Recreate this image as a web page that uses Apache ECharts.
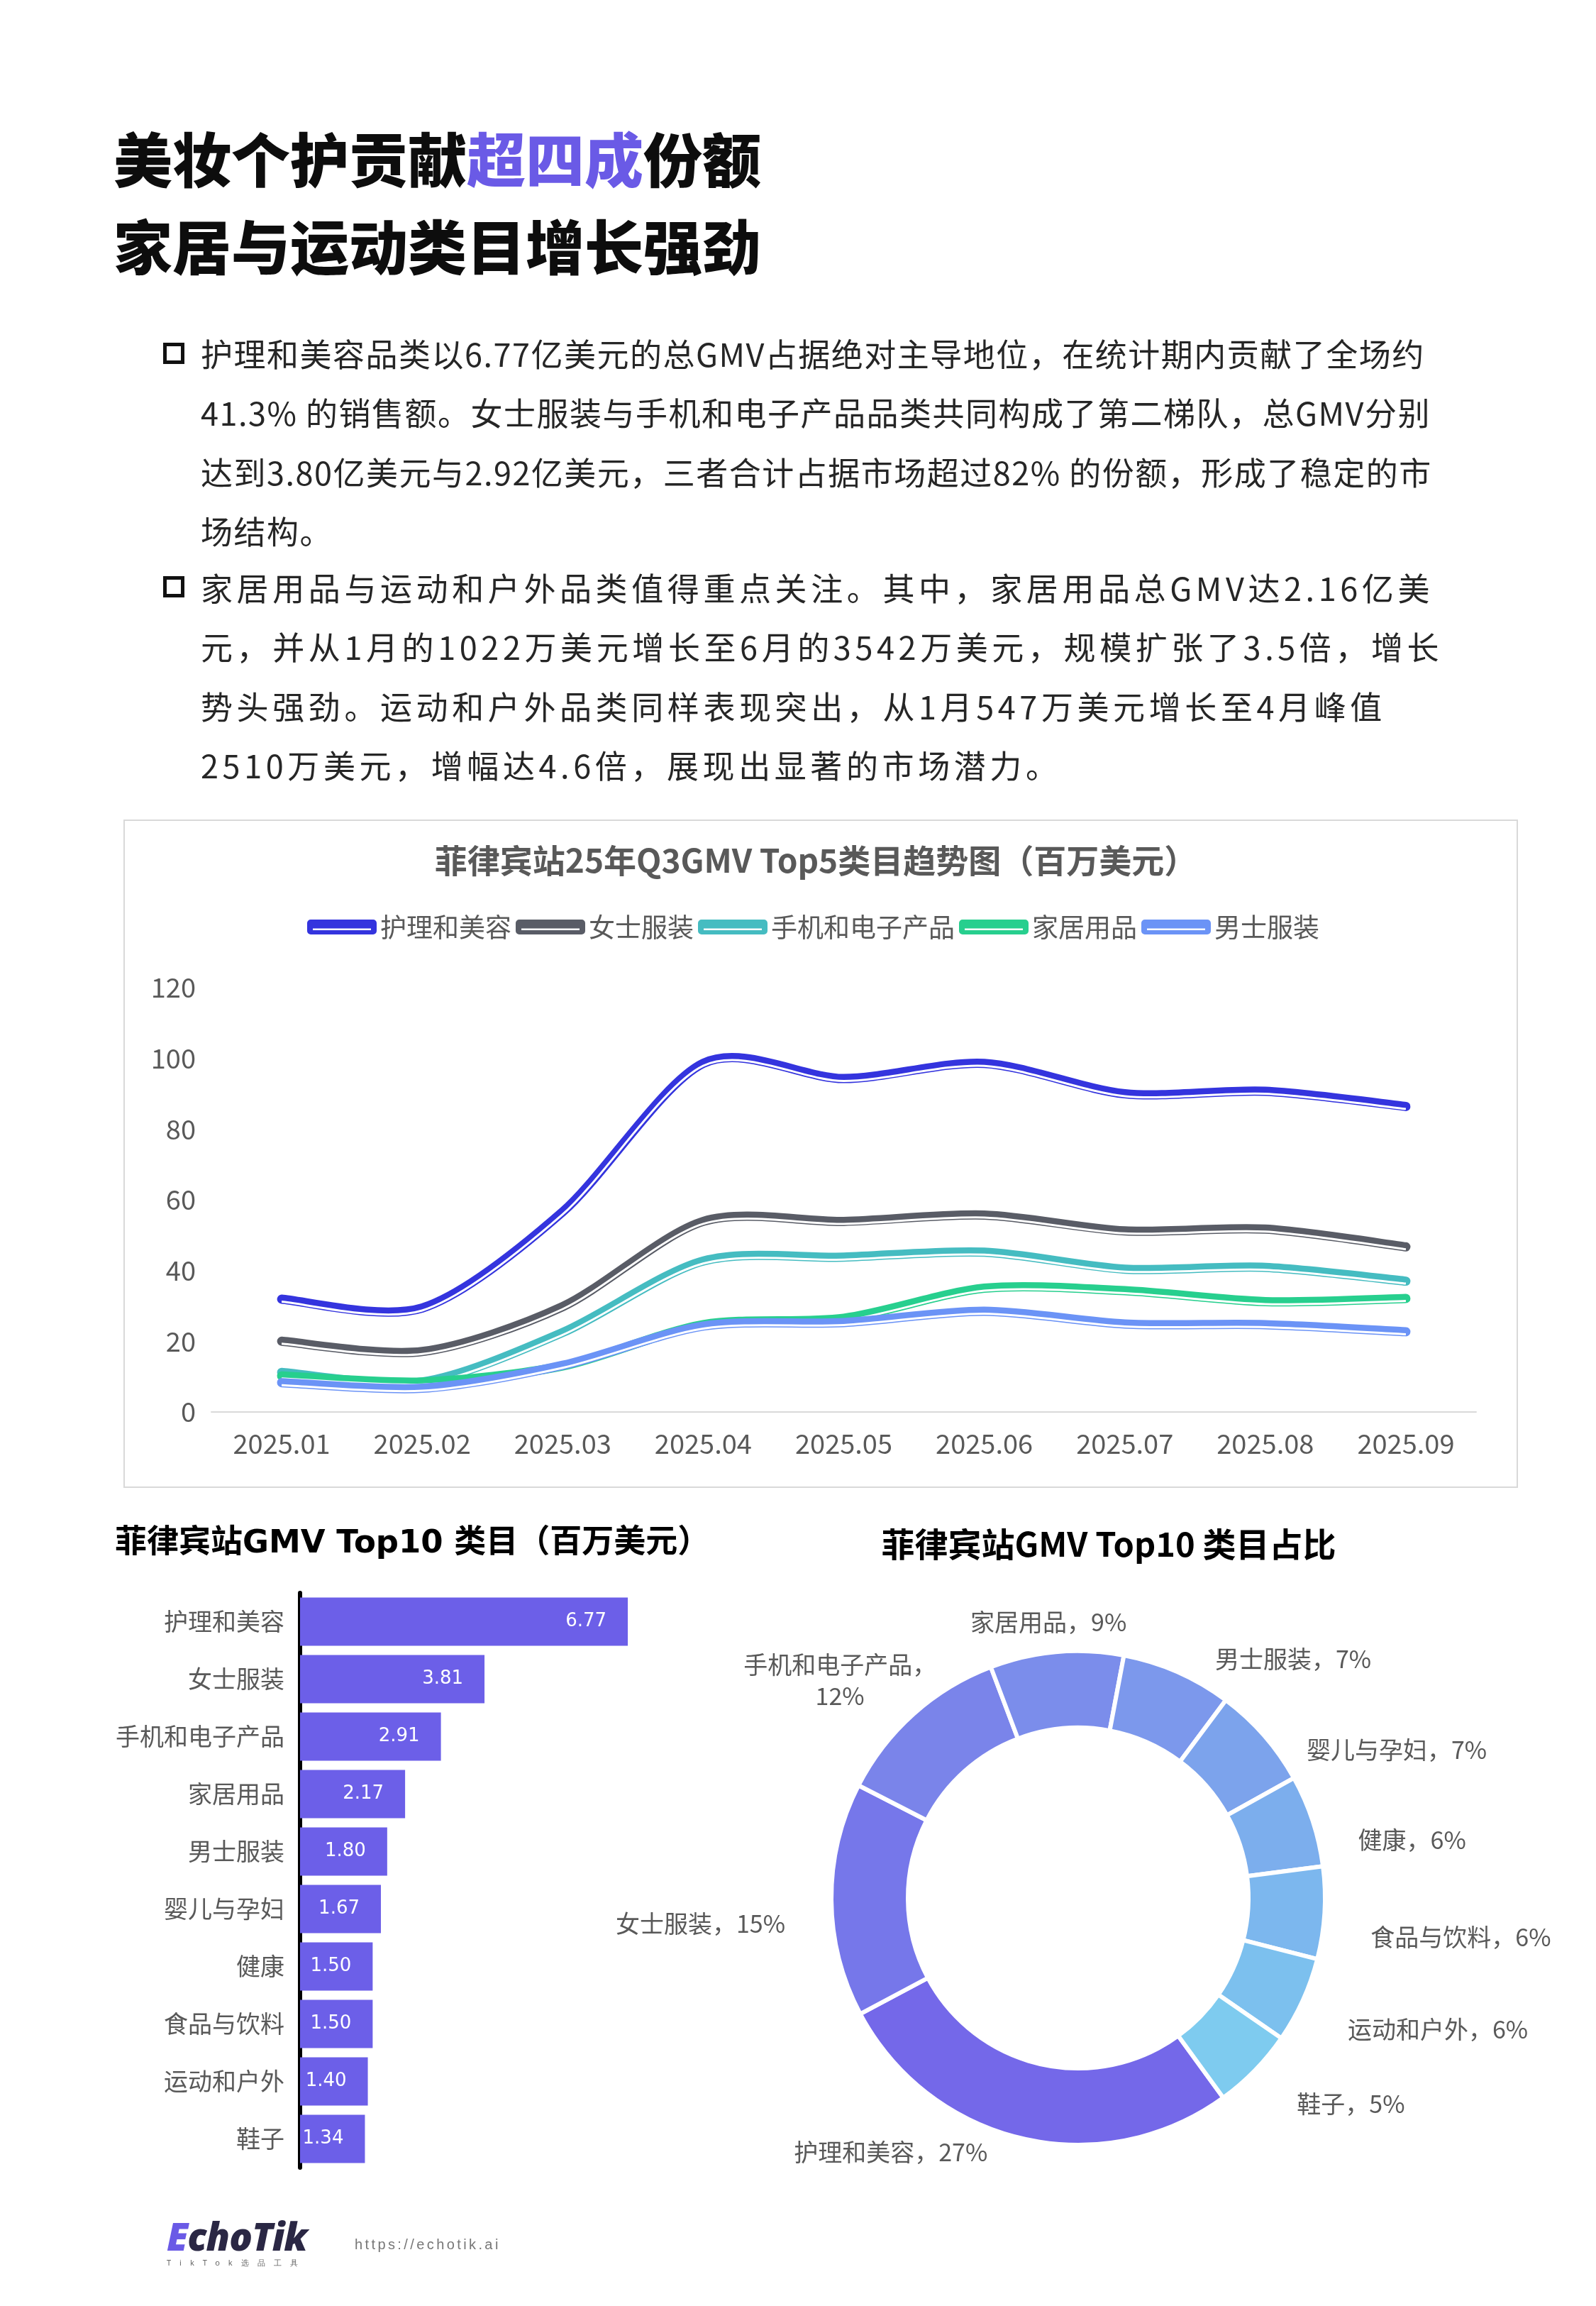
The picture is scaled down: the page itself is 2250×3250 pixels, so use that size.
<!DOCTYPE html>
<html>
<head>
<meta charset="utf-8">
<script src="https://cdn.jsdelivr.net/npm/echarts@6/dist/echarts.min.js"></script>
<style>
html,body{margin:0;padding:0;background:#fff;}
body{width:2250px;height:3250px;position:relative;overflow:hidden;font-family:"Noto Sans CJK SC","Noto Sans",sans-serif;}
#chart{position:absolute;left:0;top:0;width:2250px;height:3250px;z-index:1;}
.layer{position:absolute;z-index:2;}
.h1{left:160px;font-size:83px;font-weight:900;color:#0d0d0d;line-height:84px;height:84px;white-space:nowrap;}
.h1 .hl{color:#6a5ae6;}
.para{left:283px;font-size:45px;color:#262626;line-height:83.3px;white-space:nowrap;}
.para div{height:83.3px;}
.p1{letter-spacing:1.5px;}
.p2{letter-spacing:5.6px;}
.box{left:230px;width:20px;height:20px;border:5px solid #111;}
.logo{left:235px;top:3124px;font-family:"Noto Sans","DejaVu Sans",sans-serif;}
.logo .main{font-size:54px;font-weight:900;font-style:italic;color:#2a2744;line-height:54px;letter-spacing:-1px;}
.logo .main span{color:#6a5ae6;}
.logo .sub{font-size:11px;color:#666;letter-spacing:12px;line-height:14px;margin-top:4px;}
.url{left:500px;top:3152px;font-size:20px;color:#777;letter-spacing:3.4px;font-family:"Liberation Sans",sans-serif;}
</style>
</head>
<body>
<div id="chart"></div>
<div class="layer h1" style="top:179px;">美妆个护贡献<span class="hl">超四成</span>份额</div>
<div class="layer h1" style="top:302px;">家居与运动类目增长强劲</div>

<div class="layer box" style="top:483px;"></div>
<div class="layer para p1" style="top:456px;">
<div>护理和美容品类以6.77亿美元的总GMV占据绝对主导地位，在统计期内贡献了全场约</div>
<div>41.3% 的销售额。女士服装与手机和电子产品品类共同构成了第二梯队，总GMV分别</div>
<div>达到3.80亿美元与2.92亿美元，三者合计占据市场超过82% 的份额，形成了稳定的市</div>
<div>场结构。</div>
</div>
<div class="layer box" style="top:812px;"></div>
<div class="layer para p2" style="top:786px;">
<div>家居用品与运动和户外品类值得重点关注。其中，家居用品总GMV达2.16亿美</div>
<div>元，并从1月的1022万美元增长至6月的3542万美元，规模扩张了3.5倍，增长</div>
<div>势头强劲。运动和户外品类同样表现突出，从1月547万美元增长至4月峰值</div>
<div>2510万美元，增幅达4.6倍，展现出显著的市场潜力。</div>
</div>

<div class="layer logo">
<div class="main"><span>E</span>choTik</div>
<div class="sub">TikTok选品工具</div>
</div>
<div class="layer url">https://echotik.ai</div>

<script>
// ---------- data ----------
var months = ['2025.01','2025.02','2025.03','2025.04','2025.05','2025.06','2025.07','2025.08','2025.09'];
var lineNames = ['护理和美容','女士服装','手机和电子产品','家居用品','男士服装'];
var beautyVals  = [31.9, 29.4, 56.6, 98.6, 94.3, 98.6, 90.0, 90.7, 86.4];
var womenVals   = [20.0, 17.1, 29.8, 53.9, 53.9, 55.7, 51.2, 51.7, 46.7];
var phoneVals   = [11.2,  8.5, 22.5, 42.7, 43.8, 45.2, 40.4, 40.9, 37.0];
var homeVals    = [10.2,  8.5, 13.0, 24.7, 26.5, 35.0, 34.3, 31.2, 32.1];
var menVals     = [ 8.3,  6.7, 13.2, 24.3, 25.3, 28.5, 24.9, 24.7, 22.7];
var lineColors  = ['#3434de','#595c66','#45bcc1','#27cf8e','#6b93f6'];
var yTicks = {min:0, max:120, interval:20};

var barCats = ['护理和美容','女士服装','手机和电子产品','家居用品','男士服装','婴儿与孕妇','健康','食品与饮料','运动和户外','鞋子'];
var barVals = [6.77, 3.81, 2.91, 2.17, 1.80, 1.67, 1.50, 1.50, 1.40, 1.34];

var pieNames = ['护理和美容','女士服装','手机和电子产品','家居用品','男士服装','婴儿与孕妇','健康','食品与饮料','运动和户外','鞋子'];
var pieVals  = [6.77, 3.81, 2.91, 2.17, 1.80, 1.67, 1.50, 1.50, 1.40, 1.34];
var pieColors = ['#7468e9','#7677ea','#7a84ea','#7b8deb','#7c98ec','#7ca3ec','#7caeed','#7cb7ee','#7cc0ee','#7ecbef'];

// ---------- chart ----------
var chart = echarts.init(document.getElementById('chart'), null, {renderer:'canvas'});
var lineData = [beautyVals, womenVals, phoneVals, homeVals, menVals];
var legendIcon = 'path://M5,0 H93 A5,5 0 0 1 98,5 V16 A5,5 0 0 1 93,21 H5 A5,5 0 0 1 0,16 V5 A5,5 0 0 1 5,0 Z M8,12.5 V15 H90 V12.5 Z';

var PIE_CX = 1520, PIE_CY = 2675, PIE_R0 = 240, PIE_R1 = 348, PIE_START = 306;
var TENSION = 1 / 7;

// smooth (Catmull-Rom style) path through pixel points obtained from the axes
function smoothPath(pts){
  var d = 'M' + pts[0][0] + ',' + pts[0][1];
  for (var k = 0; k < pts.length - 1; k++){
    var p0 = pts[k-1] || pts[k], p1 = pts[k], p2 = pts[k+1], p3 = pts[k+2] || pts[k+1];
    var c1x = p1[0] + (p2[0]-p0[0])*TENSION, c1y = p1[1] + (p2[1]-p0[1])*TENSION;
    var c2x = p2[0] - (p3[0]-p1[0])*TENSION, c2y = p2[1] - (p3[1]-p1[1])*TENSION;
    d += ' C' + c1x + ',' + c1y + ' ' + c2x + ',' + c2y + ' ' + p2[0] + ',' + p2[1];
  }
  return d;
}

var series = [];
lineNames.forEach(function(n, i){
  var vals = lineData[i];
  series.push({
    name: n, type:'custom', coordinateSystem:'cartesian2d', xAxisIndex:0, yAxisIndex:0,
    data: vals.map(function(v, j){ return [j, v]; }),
    encode:{x:0, y:1}, z: 2 + i, silent:true,
    itemStyle:{color: lineColors[i]},
    renderItem:function(params, api){
      if (params.dataIndex !== 0) return null;
      var pts = vals.map(function(v, j){ return api.coord([j, v]); });
      var d = smoothPath(pts);
      return {type:'group', children:[
        {type:'path', shape:{pathData:d}, style:{fill:'none', stroke:lineColors[i], lineWidth:13, lineCap:'round', lineJoin:'round'}},
        {type:'path', shape:{pathData:d}, x:0, y:3.5, style:{fill:'none', stroke:'#ffffff', lineWidth:3, lineCap:'butt', lineJoin:'round'}}
      ]};
    }
  });
});

series.push({
  type:'bar', xAxisIndex:1, yAxisIndex:1, data: barVals, barCategoryGap:'16%',
  itemStyle:{color:'#6c5fe8'},
  label:{show:true, position:'insideRight', distance:30, color:'#fff', fontSize:26,
    fontFamily:'"DejaVu Sans", sans-serif', formatter:function(p){return p.value.toFixed(2);}}
});

var pieTotal = pieVals.reduce(function(a,b){return a+b;}, 0);
function pieMidDir(idx){
  var cum = 0;
  for (var k = 0; k < idx; k++) cum += pieVals[k];
  var a = (90 - PIE_START) + 360 * (cum + pieVals[idx] / 2) / pieTotal; // clockwise from top
  var rad = a * Math.PI / 180;
  return {x: Math.sin(rad), y: -Math.cos(rad)};
}

series.push({
  type:'pie', center:[PIE_CX, PIE_CY], radius:[PIE_R0, PIE_R1], startAngle:PIE_START, clockwise:true,
  avoidLabelOverlap:false,
  data: pieNames.map(function(n,i){return {name:n, value:pieVals[i], itemStyle:{color:pieColors[i]}};}),
  itemStyle:{borderColor:'#fff', borderWidth:6},
  label:{show:true, position:'outside', color:'#595959', fontSize:34, lineHeight:44,
    fontFamily:'"Noto Sans CJK SC", sans-serif',
    formatter:function(p){
      var pct = Math.round(p.percent) + '%';
      return p.name.length > 6 ? p.name + '，\n' + pct : p.name + '，' + pct;
    }},
  labelLine:{show:false, length:20, length2:40},
  labelLayout:function(params){
    var u = pieMidDir(params.dataIndex);
    var r = params.labelRect;
    var w = r.width, h = r.height;
    var R = PIE_R1 + 20;
    var px = PIE_CX + R * u.x, py = PIE_CY + R * u.y;
    if ((Math.abs(u.x) < 0.3 && u.y < 0) || h > 60) {
      return {x: px + u.x * w / 2, y: py + u.y * h / 2, align:'center', verticalAlign:'middle'};
    }
    var cx = r.x + w / 2, cy = r.y + h / 2;
    if (Math.abs(u.y) < 0.9) cy += h * 0.75;
    return {x: cx, y: cy, align:'center', verticalAlign:'middle'};
  }
});

var option = {
  animation:false,
  backgroundColor:'#ffffff',
  textStyle:{fontFamily:'"Noto Sans CJK SC","Noto Sans",sans-serif'},
  graphic:[
    {type:'rect', shape:{x:175, y:1156, width:1964, height:940}, style:{fill:'none', stroke:'#d9d9d9', lineWidth:2}, z:0},
    {type:'text', x:1150, y:1213, style:{text:'菲律宾站25年Q3GMV Top5类目趋势图（百万美元）', fill:'#595959', font:'bold 46px "Noto Sans CJK SC", sans-serif', align:'center', verticalAlign:'middle', textAlign:'center', textVerticalAlign:'middle'}},
    {type:'text', x:162, y:2176, style:{text:'菲律宾站GMV Top10 类目（百万美元）', fill:'#000', font:'bold 45px "DejaVu Sans", "Noto Sans CJK SC", sans-serif', align:'left', verticalAlign:'middle', textAlign:'left', textVerticalAlign:'middle'}},
    {type:'text', x:1563, y:2176, style:{text:'菲律宾站GMV Top10 类目占比', fill:'#000', font:'bold 47px "Noto Sans CJK SC", sans-serif', align:'center', verticalAlign:'middle', textAlign:'center', textVerticalAlign:'middle'}}
  ],
  legend:{
    data: lineNames.map(function(n){return {name:n, icon:legendIcon, itemStyle:{color:lineColors[lineNames.indexOf(n)]}};}),
    left:433, top:1288, itemWidth:98, itemHeight:21, itemGap:6, padding:0, selectedMode:false,
    textStyle:{fontSize:37, color:'#595959', padding:[0,0,0,0]}
  },
  grid:[
    {left:298, right:169, top:1392, bottom:1260},
    {left:423, width:546, top:2245, height:810}
  ],
  xAxis:[
    {type:'category', gridIndex:0, data: months, boundaryGap:true,
     axisLine:{lineStyle:{color:'#d9d9d9', width:2}}, axisTick:{show:false},
     axisLabel:{fontSize:38, color:'#595959', margin:26}},
    {type:'value', gridIndex:1, min:0, max:8, show:false}
  ],
  yAxis:[
    {type:'value', gridIndex:0, min:yTicks.min, max:yTicks.max, interval:yTicks.interval,
     axisLine:{show:false}, axisTick:{show:false}, splitLine:{show:false},
     axisLabel:{fontSize:38, color:'#595959', margin:22}},
    {type:'category', gridIndex:1, data: barCats, inverse:true,
     axisLine:{lineStyle:{color:'#000', width:6}}, axisTick:{show:false},
     axisLabel:{fontSize:34, color:'#595959', margin:22}}
  ],
  series: series
};
chart.setOption(option);
</script>
</body>
</html>
